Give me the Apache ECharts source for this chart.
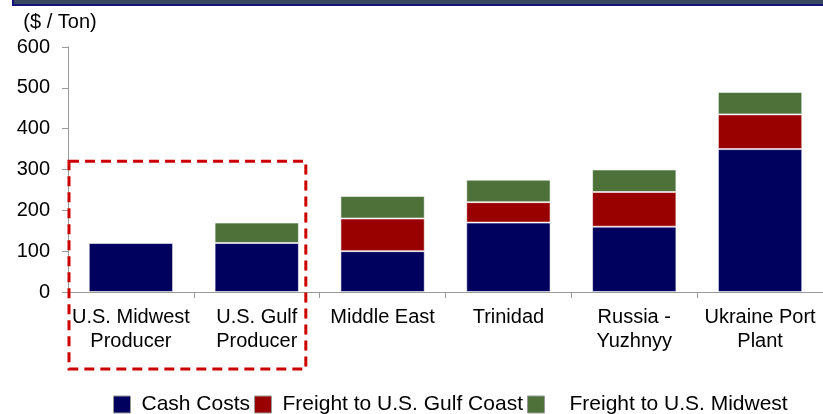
<!DOCTYPE html>
<html>
<head>
<meta charset="utf-8">
<script src="https://cdn.jsdelivr.net/npm/echarts@6/dist/echarts.min.js"></script>
<style>
  html, body { margin: 0; padding: 0; background: #fff; }
  #chart { width: 823px; height: 414px; }
</style>
</head>
<body>
<div id="chart"></div>
<script>
// Delivered cost build-up by producer location ($ / Ton)
const categories = [
  'U.S. Midwest\nProducer',
  'U.S. Gulf\nProducer',
  'Middle East',
  'Trinidad',
  'Russia -\nYuzhnyy',
  'Ukraine Port\nPlant'
];
const cashCosts      = [120, 120, 100, 170, 160, 350];
const freightGulf    = [null, null, 80, 50, 85, 85];
const freightMidwest = [null, 50, 55, 55, 55, 55];
const yTicks = { min: 0, max: 600, step: 100 };

const FONT = '"Liberation Sans", Arial, sans-serif';
const chart = echarts.init(document.getElementById('chart'));

const barBorder = { borderColor: 'rgba(255,255,255,0.55)', borderWidth: 1 };

chart.setOption({
  animation: false,
  textStyle: { fontFamily: FONT, color: '#000' },
  grid: { left: 68, right: 0, top: 47, bottom: 122, outerBoundsMode: 'none' },
  legend: {
    left: 113, top: 394, padding: 0,
    itemWidth: 17, itemHeight: 17, itemGap: 4,
    icon: 'rect',
    itemStyle: { borderColor: '#999', borderWidth: 1 },
    textStyle: { fontSize: 21, color: '#000', fontFamily: FONT, padding: [0, 2, 0, 6] },
    data: [
      { name: 'Cash Costs' },
      { name: 'Freight to U.S. Gulf Coast' },
      { name: 'Freight to U.S. Midwest', textStyle: { padding: [0, 0, 0, 20] } }
    ]
  },
  xAxis: {
    type: 'category',
    data: categories,
    axisLine: { lineStyle: { color: '#9a9a9a', width: 1 } },
    axisTick: { show: true, length: 6, lineStyle: { color: '#9a9a9a' } },
    axisLabel: { interval: 0, fontSize: 20, lineHeight: 24, margin: 13, color: '#000', fontFamily: FONT }
  },
  yAxis: {
    type: 'value',
    min: yTicks.min, max: yTicks.max, interval: yTicks.step,
    name: '($ / Ton)',
    nameLocation: 'end',
    nameGap: 15,
    nameTextStyle: { fontSize: 20, color: '#000', fontFamily: FONT, align: 'center', padding: [0, 16, 0, 0] },
    splitLine: { show: false },
    axisLine: { show: true, lineStyle: { color: '#9a9a9a', width: 1 } },
    axisTick: { show: true, length: 6, lineStyle: { color: '#9a9a9a' } },
    axisLabel: { fontSize: 20, margin: 18, color: '#000', fontFamily: FONT }
  },
  series: [
    { name: 'Cash Costs', type: 'bar', stack: 'cost', barCategoryGap: '33%',
      itemStyle: Object.assign({ color: '#00005e' }, barBorder), data: cashCosts },
    { name: 'Freight to U.S. Gulf Coast', type: 'bar', stack: 'cost',
      itemStyle: Object.assign({ color: '#990000' }, barBorder), data: freightGulf },
    { name: 'Freight to U.S. Midwest', type: 'bar', stack: 'cost',
      itemStyle: Object.assign({ color: '#4d7139' }, barBorder), data: freightMidwest }
  ]
});

// Header band and the dashed box around the two U.S. producers
const band = chart.convertToPixel({ xAxisIndex: 0 }, 1) - chart.convertToPixel({ xAxisIndex: 0 }, 0);
const boxLeft = chart.convertToPixel({ xAxisIndex: 0 }, 0) - band / 2 + 1;
const boxRight = chart.convertToPixel({ xAxisIndex: 0 }, 1) + band * 0.39;
const boxTop = chart.convertToPixel({ yAxisIndex: 0 }, 320);
const axisY = chart.convertToPixel({ yAxisIndex: 0 }, 0);

chart.setOption({
  graphic: [
    { type: 'rect', shape: { x: 13, y: -4, width: 812, height: 9 },
      style: { fill: '#3a4a5e', stroke: '#14147a', lineWidth: 2 }, z: 10 },
    { type: 'rect', shape: { x: boxLeft, y: boxTop, width: boxRight - boxLeft, height: axisY + 77 - boxTop },
      style: { fill: 'none', stroke: '#cc0000', lineWidth: 3, lineDash: [10, 6] }, z: 10 }
  ]
});
</script>
</body>
</html>
